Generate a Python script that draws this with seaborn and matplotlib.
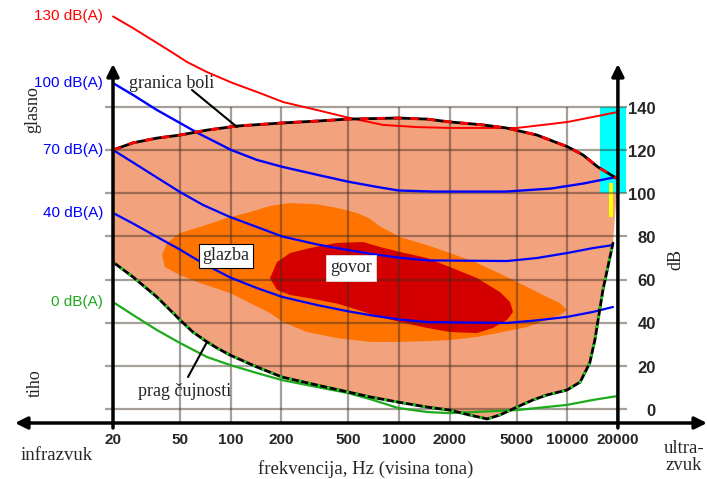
import matplotlib
matplotlib.use("Agg")
import matplotlib.pyplot as plt
import seaborn as sns

# axis ticks
FREQ_TICKS = [20, 50, 100, 200, 500, 1000, 2000, 5000, 10000, 20000]
FREQ_LABELS = ["20", "50", "100", "200", "500", "1000", "2000", "5000", "10000", "20000"]
DB_TICKS = [0, 20, 40, 60, 80, 100, 120, 140]

# equal loudness contours (Hz, dB)
FREQ_130 = [20, 26.3, 36.5, 45.4, 55, 72.4, 103, 149, 205, 326, 498, 804, 1280,
            2000, 3160, 5020, 7180, 10100, 14220, 20000]
PHON_130 = [182, 176.6, 169.7, 165.1, 160.9, 156.2, 151.1, 146.5, 142.3, 138.6, 135.1,
            131.7, 130.7, 130.3, 130.3, 130.3, 131.7, 133.1, 135.4, 137.7]
FREQ_100 = [20, 26.3, 36.5, 50, 63.6, 100.7, 143, 202, 326, 498, 723, 992, 1592,
            4340, 8000, 12400, 20000]
PHON_100 = [151.1, 145.6, 138.6, 132.6, 128.0, 120.1, 115.5, 112.3, 108.6, 105.4,
            103.1, 101.3, 100.8, 100.8, 102.2, 104.5, 107.7]
FREQ_70 = [20, 26.3, 36.5, 50, 68.5, 99.2, 143, 202, 326, 498, 700, 987, 1468,
           4390, 6610, 9970, 14220, 18700]
PHON_70 = [120.1, 114.3, 107.3, 100.6, 94.6, 89.0, 84.4, 80.0, 76.3, 73.7, 71.8,
           70.2, 68.9, 68.6, 70.0, 72.3, 74.6, 76.0]
FREQ_40 = [20, 26.3, 36.5, 50, 68.5, 99.2, 143, 202, 326, 498, 700, 987, 1468,
           4390, 6610, 9970, 14220, 18700]
PHON_40 = [90.9, 86.0, 79.8, 73.9, 67.5, 61.0, 56.1, 52.0, 48.2, 45.3, 43.3, 41.6,
           40.3, 39.9, 41.1, 42.7, 45.0, 47.3]
FREQ_0 = [20, 26.3, 36.5, 50, 72.4, 99.2, 143, 202, 326, 498, 673, 987, 1468,
          2000, 5020, 9970, 14220, 19800]
PHON_0 = [49.6, 43.6, 36.6, 30.6, 24.1, 20.4, 16.7, 13.4, 10.2, 7.4, 4.6, 0.5, -1.4,
          -1.9, -0.5, 1.9, 4.2, 6.0]

# pain threshold (granica boli) and hearing threshold (prag cujnosti)
PAIN_F = [20, 26.3, 36.5, 50, 72.4, 109.5, 202, 326, 498, 992, 1468, 2000, 3160,
          4340, 6610, 10100, 12400, 15200, 20000]
PAIN_DB = [120.1, 123.4, 125.6, 127.0, 129.3, 131.2, 132.6, 133.5, 134.4, 134.9,
           134.4, 133.1, 131.7, 130.3, 127.0, 121.5, 117.8, 112.2, 106.6]
THRESH_F = [20, 26.3, 36.5, 50, 59.6, 72.4, 82.9, 99.2, 143, 202, 326, 498, 673,
            987, 1468, 2000, 2630, 3340, 3980, 5020, 6260, 7580, 9970, 11940,
            13600, 14600, 16300, 18700]
THRESH_DB = [68.1, 61.2, 51.9, 41.3, 35.7, 31.1, 28.3, 25.0, 19.5, 14.8, 11.1, 7.9,
             5.6, 3.2, 0.9, -0.5, -2.8, -4.6, -2.8, 0.9, 4.2, 6.5, 8.8, 12.5,
             21.3, 32.0, 55.2, 76.9]

# music area (glazba)
MUSIC_F = [39.1, 41.9, 50, 65.8, 95.1, 130.3, 171.4, 225, 326, 429, 564, 673, 772,
           1015, 1468, 2011, 2910, 4154, 5768, 7580, 9058, 9970, 9058, 7580, 5768,
           4154, 2910, 2011, 1468, 1015, 673, 429, 284, 204.7, 171.4, 130.3, 99.2,
           65.8, 50, 40.7]
MUSIC_DB = [71.4, 77.0, 81.6, 84.4, 88.5, 91.3, 94.1, 95.5, 94.9, 93.2, 90.9, 88.2,
            84.6, 79.7, 76.0, 72.3, 67.7, 62.1, 56.6, 51.9, 49.1, 45.9, 43.6, 41.3,
            38.0, 35.7, 33.4, 32.0, 31.5, 31.1, 31.1, 32.9, 35.7, 40.3, 44.5, 49.1,
            53.8, 58.4, 62.1, 65.8]

# speech area (govor)
SPEECH_F = [171.4, 188.6, 225.3, 296, 428.6, 612, 772, 1015, 1468, 2011, 2910, 3986,
            4570, 4762, 4387, 3622, 2910, 2011, 1468, 1015, 772, 587, 428.6, 296,
            225.3, 188.6]
SPEECH_DB = [60.7, 68.1, 72.3, 74.6, 77.0, 77.4, 75.1, 72.8, 70.0, 65.8, 60.7, 54.2,
             49.6, 45.0, 41.3, 37.6, 35.2, 35.7, 37.6, 40.3, 42.7, 45.6, 48.9, 51.3,
             52.9, 55.2]

# ultrasound markers
CYAN_F = [15600, 22400]
CYAN_DB = [100, 140]
YELLOW_F = [17700, 18700]
YELLOW_DB = [89, 105]

# pixel mapping of the reference (layout only)
W, H = 707, 479
X0_PX, PX_PER_DEC = 113, 168.3
Y0_PX, PX_PER_DB = 409, 2.157


def px_f(px):
    return 20 * 10 ** ((px - X0_PX) / PX_PER_DEC)


def px_db(py):
    return (Y0_PX - py) / PX_PER_DB


sns.set_theme(style="white")
plt.rcParams["font.family"] = ["Liberation Sans", "DejaVu Sans"]

fig = plt.figure(figsize=(W / 100, H / 100), dpi=100)
ax = fig.add_axes([0, 0, 1, 1])
ax.set_xscale("log")
ax.set_xlim(px_f(0), px_f(W))
ax.set_ylim(px_db(H), px_db(0))
ax.axis("off")

SALMON = "#F2A27C"
ORANGE = "#FF7300"
DARKRED = "#D40000"
GREEN = "#1DAA1D"
SERIF = ["Liberation Serif", "DejaVu Serif"]

# audible area, music, speech
ax.fill(PAIN_F + THRESH_F[::-1], PAIN_DB + THRESH_DB[::-1], color=SALMON, lw=0, zorder=1)
ax.fill(MUSIC_F, MUSIC_DB, color=ORANGE, lw=0, zorder=2)
ax.fill(SPEECH_F, SPEECH_DB, color=DARKRED, lw=0, zorder=3)
ax.fill_between(CYAN_F, CYAN_DB[0], CYAN_DB[1], color="#00FFFF", lw=0, zorder=3.5)
ax.fill_between(YELLOW_F, YELLOW_DB[0], YELLOW_DB[1], color="#FFFF00", lw=0, zorder=3.6)

# grid
grid_kw = dict(color="#3a2a20", alpha=0.45, lw=1.6, zorder=4)
ax.hlines(DB_TICKS, px_f(105), px_f(627), **grid_kw)
ax.vlines(FREQ_TICKS, -6.5, 140, **grid_kw)

# loudness contours
curves = [
    (FREQ_130, PHON_130, "#FF0000", "130 dB(A)", 1.4),
    (FREQ_100, PHON_100, "#0000FF", "100 dB(A)", 1.7),
    (FREQ_70, PHON_70, "#0000FF", "70 dB(A)", 1.6),
    (FREQ_40, PHON_40, "#0000FF", "40 dB(A)", 1.6),
    (FREQ_0, PHON_0, GREEN, "0 dB(A)", 1.6),
]
for freqs, vals, col, lab, lw in curves:
    sns.lineplot(x=freqs, y=vals, color=col, lw=lw, sort=False, ax=ax, zorder=5)
    ax.text(px_f(103), vals[0], lab, color=col, fontsize=11, ha="right", va="center")

# pain threshold: red dashes over black
sns.lineplot(x=PAIN_F, y=PAIN_DB, color="black", lw=2.0, sort=False, ax=ax, zorder=5.5)
ax.plot(PAIN_F, PAIN_DB, color="#FF0000", lw=2.0, linestyle=(0, (3, 3)), zorder=5.6)

# hearing threshold: green dots over black
sns.lineplot(x=THRESH_F, y=THRESH_DB, color="black", lw=2.0, sort=False, ax=ax, zorder=5.5)
ax.plot(THRESH_F, THRESH_DB, color="#22CC22", lw=2.0, linestyle=(0, (1, 2.5)), zorder=5.6)

# axes arrows
arrow_kw = dict(color="black", lw=2.5, shrinkA=0, shrinkB=0, mutation_scale=18)
ax.annotate("", xy=(px_f(707), px_db(423)), xytext=(px_f(15), px_db(423)),
            arrowprops=dict(arrowstyle="<|-|>", **arrow_kw), zorder=6)
for f in (FREQ_TICKS[0], FREQ_TICKS[-1]):
    ax.annotate("", xy=(f, px_db(64)), xytext=(f, px_db(428)),
                arrowprops=dict(arrowstyle="-|>", **arrow_kw), zorder=6)

# tick labels
for f, lab in zip(FREQ_TICKS, FREQ_LABELS):
    ax.text(f, px_db(440), lab, fontsize=11, fontweight="bold", ha="center", va="center")
for d in DB_TICKS:
    ax.text(px_f(656), d - 1, str(d), fontsize=12, fontweight="bold", ha="right", va="center")

# annotations
box = dict(boxstyle="square,pad=0.2", fc="white", ec="black", lw=0.8)
ax.text(px_f(226), px_db(256), "glazba", family=SERIF, fontsize=13, ha="center",
        va="center", bbox=box, zorder=7)
ax.text(px_f(351), px_db(268), "govor", family=SERIF, fontsize=13, ha="center",
        va="center", bbox=dict(boxstyle="square,pad=0.25", fc="white", ec="#dddddd", lw=0.6),
        zorder=7)

ax.text(px_f(172), px_db(84), "granica boli", family=SERIF, fontsize=13, ha="center",
        va="center", zorder=7)
ax.annotate("", xy=(px_f(237), px_db(127)), xytext=(px_f(192), px_db(90)),
            arrowprops=dict(arrowstyle="-", lw=1.5, color="black", shrinkA=0, shrinkB=0),
            zorder=6)
ax.text(px_f(185), px_db(392), "prag čujnosti", family=SERIF, fontsize=13, ha="center",
        va="center", zorder=7)
ax.annotate("", xy=(px_f(207), px_db(342)), xytext=(px_f(188), px_db(377)),
            arrowprops=dict(arrowstyle="-", lw=1.5, color="black", shrinkA=0, shrinkB=0),
            zorder=6)

ax.text(px_f(33), px_db(110), "glasno", family=SERIF, fontsize=13, rotation=90,
        ha="center", va="center")
ax.text(px_f(35), px_db(383), "tiho", family=SERIF, fontsize=13, rotation=90,
        ha="center", va="center")
ax.text(px_f(676), px_db(259), "dB", family=SERIF, fontsize=13, rotation=90,
        ha="center", va="center")
ax.text(px_f(57), px_db(455), "infrazvuk", family=SERIF, fontsize=13.5, ha="center",
        va="center")
ax.text(px_f(366), px_db(469), "frekvencija, Hz (visina tona)", family=SERIF,
        fontsize=13.5, ha="center", va="center")
ax.text(px_f(684), px_db(457), "ultra-\nzvuk", family=SERIF, fontsize=13.5,
        ha="center", va="center", linespacing=1.0)

fig.savefig("out.png", dpi=100)
